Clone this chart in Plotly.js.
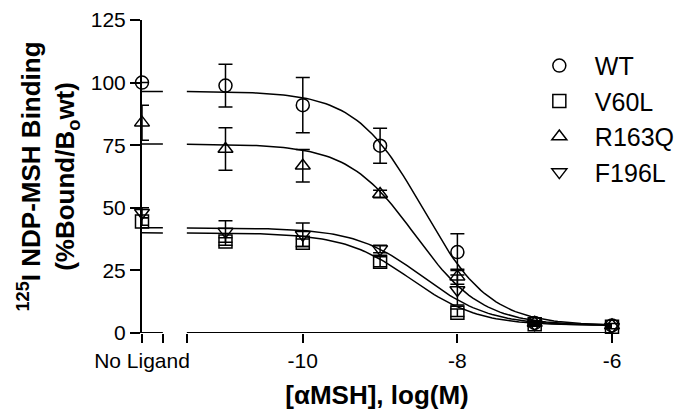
<!DOCTYPE html>
<html>
<head>
<meta charset="utf-8">
<script src="https://cdn.plot.ly/plotly-3.0.1.min.js"></script>
<style>html,body{margin:0;padding:0;background:#fff;}#chart{width:686px;height:410px;}</style>
</head>
<body>
<div id="chart"></div>
<script>
// ---- data ----
const seriesNames = ["WT", "V60L", "R163Q", "F196L"];
const symbols = ["circle-open", "square-open", "triangle-up-open", "triangle-down-open"];
const logConc = [-11, -10, -9, -8, -7, -6];

const wtMean    = [98.8, 91.0, 74.8, 32.3, 4.0, 3.0];
const wtErr     = [8.5, 11.0, 7.0, 7.3, 0.8, 0.5];
const v60lMean  = [36.5, 36.0, 28.5, 8.1, 3.5, 2.5];
const v60lErr   = [1.5, 1.5, 2.0, 1.5, 0.5, 0.5];
const r163qMean = [73.5, 66.8, 55.5, 22.5, 4.0, 3.0];
const r163qErr  = [8.5, 6.5, 1.5, 3.0, 0.5, 0.5];
const f196lMean = [40.5, 39.2, 33.5, 17.2, 3.5, 2.5];
const f196lErr  = [4.3, 4.7, 1.5, 6.0, 0.5, 0.5];

// "No Ligand" points
const noLigandMean = [100, 44.5, 84, 48];
const noLigandErr  = [0, 1.5, 7, 2];

// one-site competition fit parameters
const fitTop      = [96.5, 40.0, 75.5, 42.0];
const fitBottom   = [3.0, 3.0, 3.0, 3.0];
const fitLogIC50  = [-8.45, -8.6, -8.55, -8.45];

// axis ticks
const xTickVals = [-12.08, -10, -8, -6];
const xTickText = ["No Ligand", "-10", "-8", "-6"];
const breakTickVals = [-11.81, -11.5];
const yTickVals = [0, 25, 50, 75, 100, 125];

// ---- build traces ----
const NL_X = -12.08, NL_END = -11.81, MAIN_START = -11.5, MAIN_END = -6;
const means = [wtMean, v60lMean, r163qMean, f196lMean];
const errs  = [wtErr, v60lErr, r163qErr, f196lErr];
const FONT = "Liberation Sans, Arial, sans-serif";

function fitY(i, x) {
  return fitBottom[i] + (fitTop[i] - fitBottom[i]) / (1 + Math.pow(10, x - fitLogIC50[i]));
}

const traces = [];
for (let i = 0; i < 4; i++) {
  const cx = [NL_X, NL_END, null];
  for (let k = 0; k <= 110; k++) cx.push(MAIN_START + k * (MAIN_END - MAIN_START) / 110);
  const cy = cx.map(x => x === null ? null : fitY(i, x));
  traces.push({
    x: cx, y: cy, type: "scatter", mode: "lines",
    line: {color: "#000", width: 1.5, shape: "linear"},
    showlegend: false, hoverinfo: "skip", connectgaps: false
  });
}
for (let i = 0; i < 4; i++) {
  traces.push({
    x: [NL_X].concat(logConc),
    y: [noLigandMean[i]].concat(means[i]),
    error_y: {type: "data", array: [noLigandErr[i]].concat(errs[i]), visible: true,
              color: "#000", thickness: 1.5, width: 7},
    type: "scatter", mode: "markers", name: seriesNames[i],
    legendgroup: seriesNames[i],
    marker: {symbol: symbols[i], size: 13, color: "#000", line: {color: "#000", width: 1.5}},
    cliponaxis: false
  });
}
// invisible trace on the overlay axis carrying the axis-break ticks
traces.push({x: breakTickVals, y: [null, null], xaxis: "x2", type: "scatter", mode: "markers",
             showlegend: false, hoverinfo: "skip"});

const layout = {
  width: 686, height: 410,
  margin: {l: 142, r: 74, t: 20, b: 77, autoexpand: false},
  paper_bgcolor: "#fff", plot_bgcolor: "#fff",
  font: {family: FONT, color: "#000"},
  xaxis: {
    range: [NL_X, MAIN_END], showline: false, showgrid: false, zeroline: false,
    ticks: "outside", ticklen: 9, tickwidth: 2, tickcolor: "#000",
    tickmode: "array", tickvals: xTickVals, ticktext: xTickText,
    tickfont: {family: FONT, size: 21, color: "#000"},
    title: {text: "<b>[αMSH], log(M)</b>", font: {family: FONT, size: 26, color: "#000"}, standoff: 14}
  },
  xaxis2: {
    overlaying: "x", side: "bottom", range: [NL_X, MAIN_END],
    showline: false, showgrid: false, zeroline: false, showticklabels: false,
    ticks: "outside", ticklen: 9, tickwidth: 2, tickcolor: "#000",
    tickmode: "array", tickvals: breakTickVals
  },
  yaxis: {
    range: [0, 125], showline: true, linewidth: 2, linecolor: "#000",
    showgrid: false, zeroline: false,
    ticks: "outside", ticklen: 10, tickwidth: 2, tickcolor: "#000",
    tickmode: "array", tickvals: yTickVals,
    tickfont: {family: FONT, size: 21, color: "#000"}
  },
  shapes: [
    {type: "line", xref: "x", yref: "y", x0: NL_X, x1: NL_END, y0: 0, y1: 0, line: {color: "#000", width: 2}},
    {type: "line", xref: "x", yref: "y", x0: MAIN_START, x1: MAIN_END, y0: 0, y1: 0, line: {color: "#000", width: 2}}
  ],
  annotations: [{
    text: "<b><sup>125</sup>I NDP-MSH Binding<br>(%Bound/B<sub>o</sub>wt)</b>",
    xref: "paper", yref: "paper", x: -0.2, y: 0.5, xanchor: "center", yanchor: "middle",
    textangle: -90, showarrow: false, font: {family: FONT, size: 26, color: "#000"}
  }],
  showlegend: true,
  legend: {
    x: 0.8124, xanchor: "left", y: 0.927, yanchor: "top", itemwidth: 61,
    font: {family: FONT, size: 25, color: "#000"},
    bgcolor: "rgba(0,0,0,0)", borderwidth: 0, tracegroupgap: 0, traceorder: "grouped"
  }
};

Plotly.newPlot("chart", traces, layout, {displayModeBar: false, staticPlot: true});
</script>
</body>
</html>
